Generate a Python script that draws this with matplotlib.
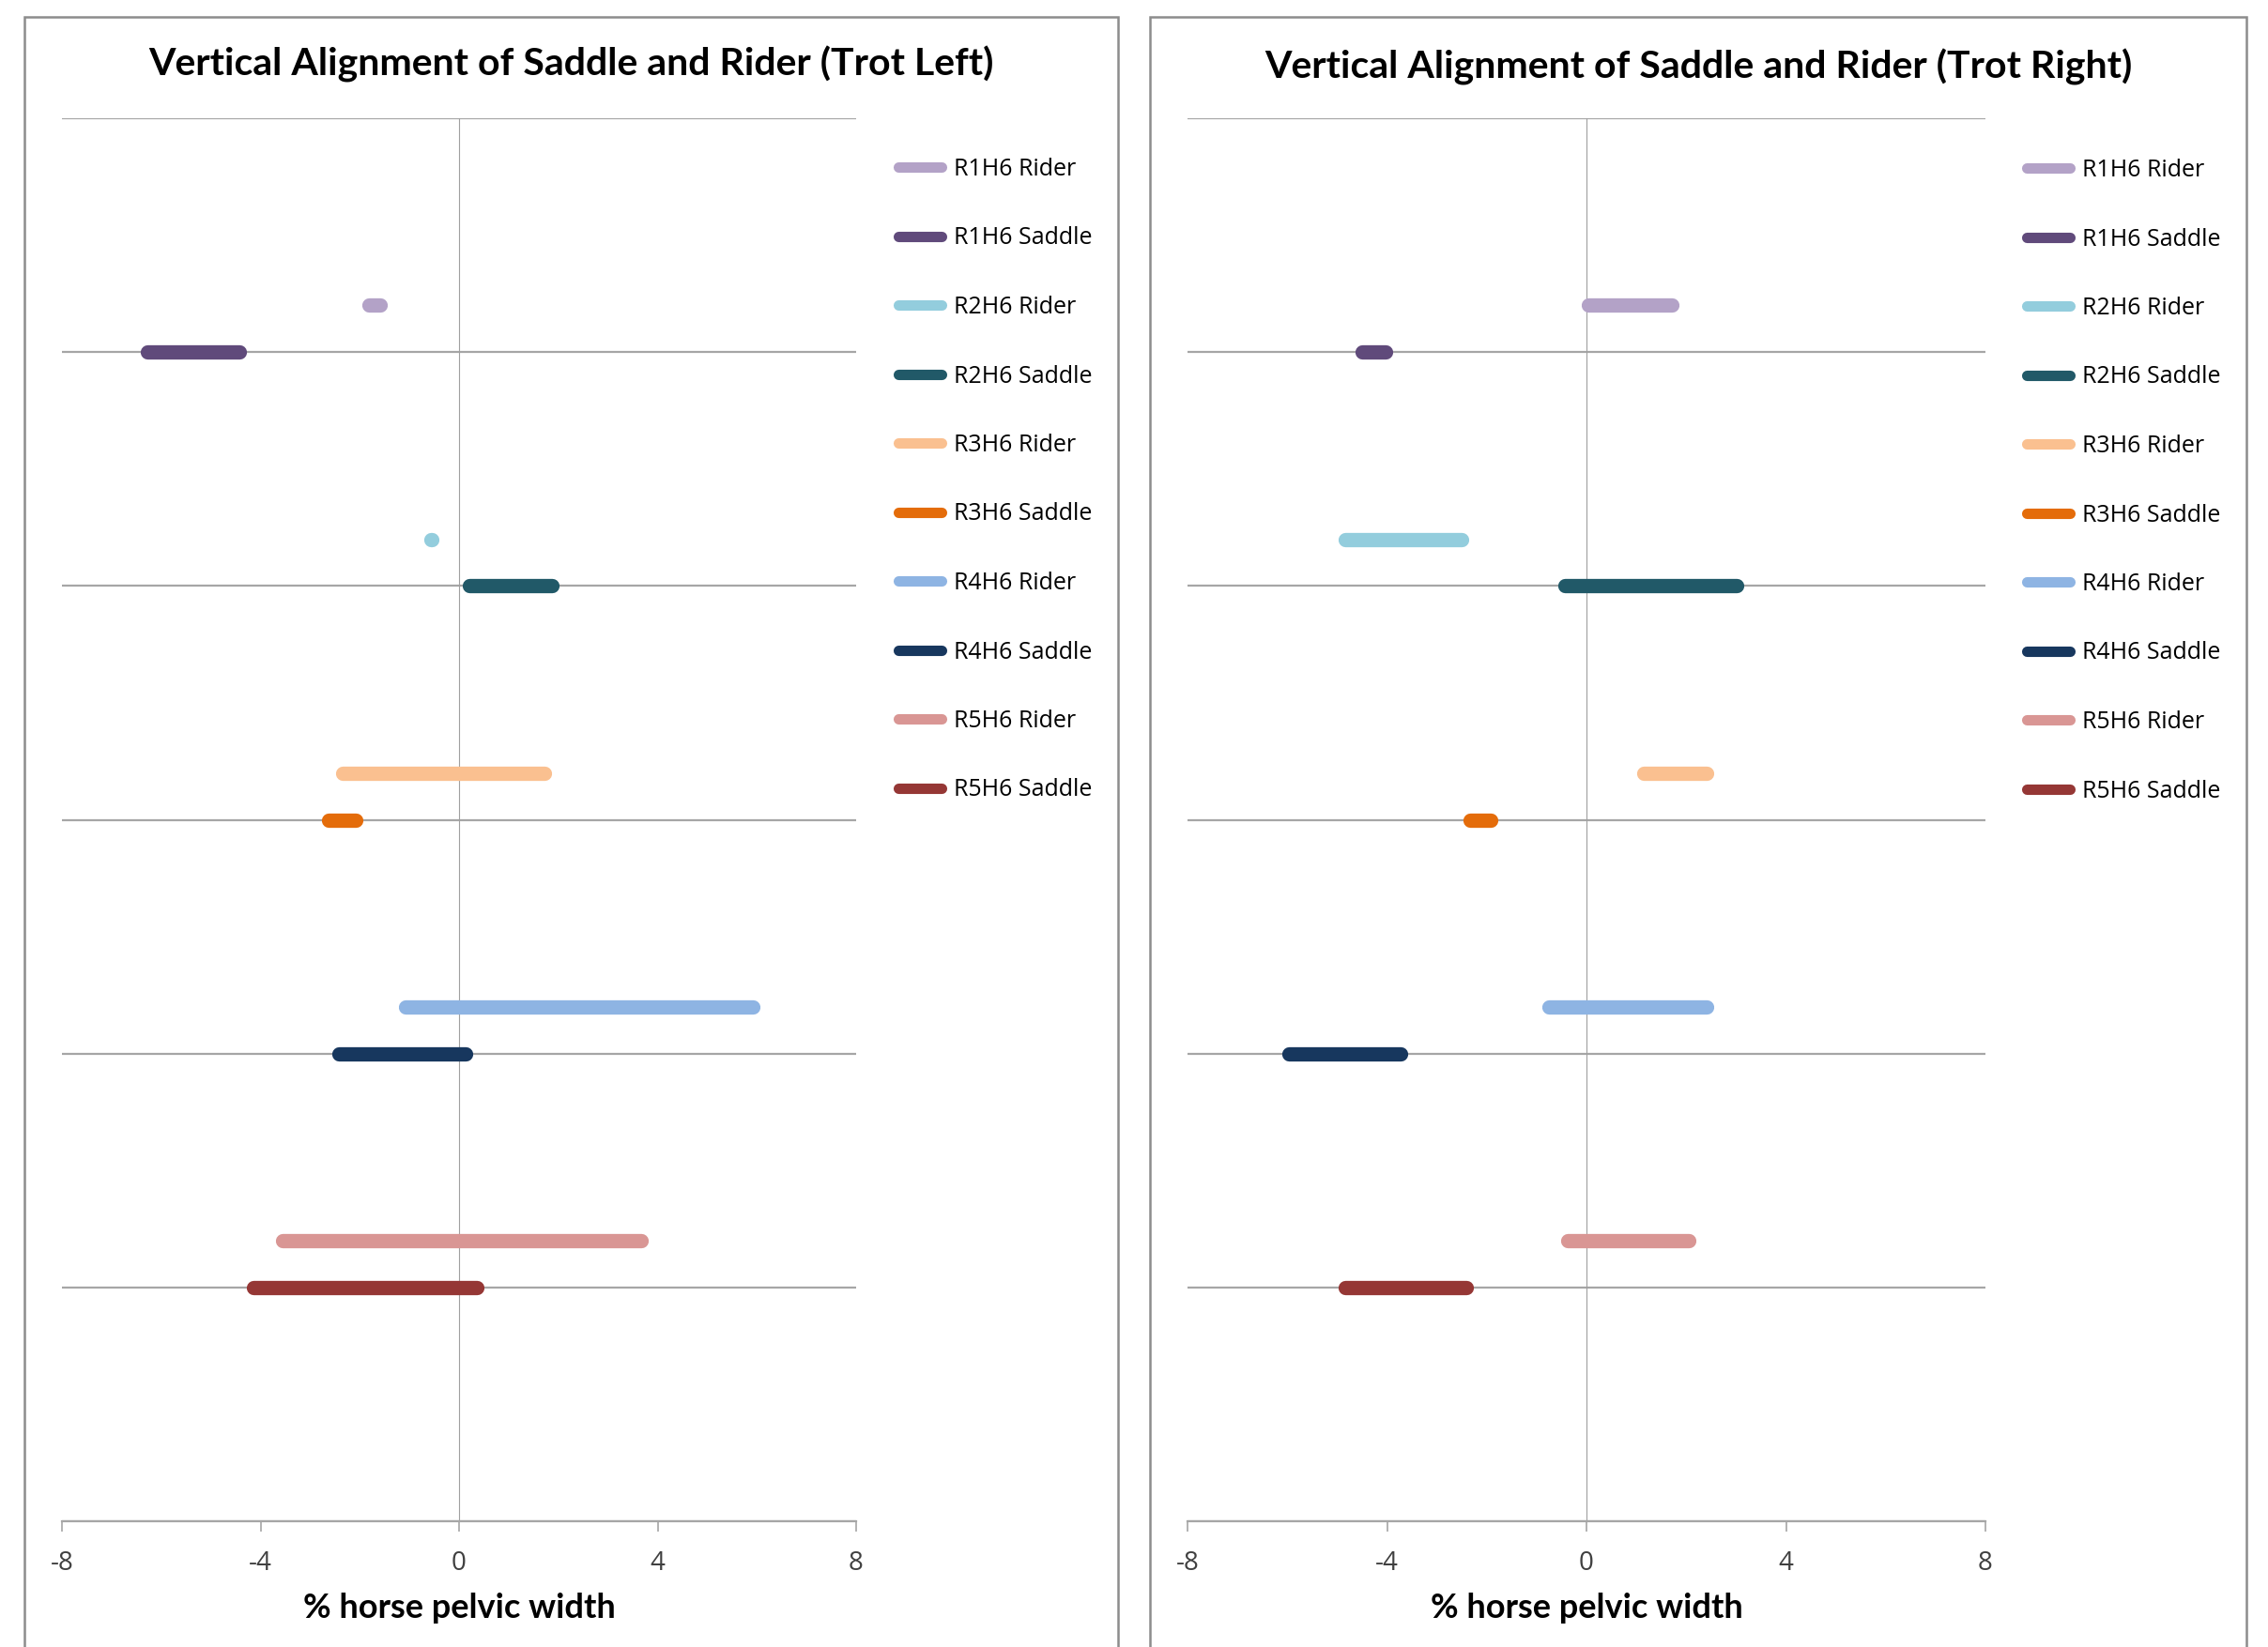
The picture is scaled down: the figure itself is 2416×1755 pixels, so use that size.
import matplotlib
matplotlib.use('Agg')
import matplotlib.pyplot as plt
from matplotlib import font_manager
from matplotlib.patches import Rectangle

#series names and colours (rider / saddle per rider-horse pair)
labels = ['R1H6 Rider', 'R1H6 Saddle', 'R2H6 Rider', 'R2H6 Saddle', 'R3H6 Rider',
          'R3H6 Saddle', 'R4H6 Rider', 'R4H6 Saddle', 'R5H6 Rider', 'R5H6 Saddle']
colors = ['#B3A2C7', '#604A7B', '#93CDDD', '#215968', '#FAC090',
          '#E46C0A', '#8EB4E3', '#17375E', '#D99694', '#953735']
#vertical position of each series
levels = [5.2, 5, 4.2, 4, 3.2, 3, 2.2, 2, 1.2, 1]

#start / end of each bar, % horse pelvic width
left_start = [-1.82, -6.27, -0.56, 0.21, -2.35, -2.62, -1.07, -2.42, -3.55, -4.14]
left_end = [-1.58, -4.43, -0.54, 1.87, 1.72, -2.08, 5.92, 0.14, 3.67, 0.35]
right_start = [0.03, -4.49, -4.84, -0.43, 1.14, -2.34, -0.75, -5.97, -0.37, -4.84]
right_end = [1.71, -4.03, -2.5, 3.01, 2.4, -1.92, 2.4, -3.72, 2.05, -2.41]

titles = ['Vertical Alignment of Saddle and Rider (Trot Left)',
          'Vertical Alignment of Saddle and Rider (Trot Right)']
xlabel = '% horse pelvic width'
xticks = [-8, -4, 0, 4, 8]

names = {f.name for f in font_manager.fontManager.ttflist}
title_font = 'Liberation Sans Narrow' if 'Liberation Sans Narrow' in names else 'Lato'
body_font = 'Open Sans'

W, H = 2416, 1755
fig = plt.figure(figsize=(W / 100, H / 100), dpi=100)

panels = [
    dict(box=(26, 1191), ax=(66, 912), title_y=68, leg_x=957, leg_y=168,
         start=left_start, end=left_end, title=titles[0]),
    dict(box=(1225, 2393), ax=(1265, 2115), title_y=71, leg_x=2159, leg_y=169,
         start=right_start, end=right_end, title=titles[1]),
]

ax_top, ax_bot = 126, 1621

for p in panels:
    #panel frame, running off the bottom edge
    x0, x1 = p['box']
    fig.patches.append(Rectangle((x0 / W, -0.02), (x1 - x0) / W, 1 - 18 / H + 0.02,
                                 transform=fig.transFigure, fill=False,
                                 edgecolor='#8C8C8C', linewidth=1.8))
    fig.text((x0 + x1) / 2 / W, 1 - p['title_y'] / H, p['title'], ha='center', va='center',
             fontsize=29.5, fontweight='bold', family=title_font)

    a0, a1 = p['ax']
    ax = fig.add_axes([a0 / W, 1 - ax_bot / H, (a1 - a0) / W, (ax_bot - ax_top) / H])
    ax.set_xlim(-8, 8)
    ax.set_ylim(0, 6)

    for i in range(len(labels)):
        ax.plot([p['start'][i], p['end'][i]], [levels[i], levels[i]], color=colors[i],
                linewidth=11, solid_capstyle='round', label=labels[i], zorder=3)

    #horizontal gridlines and axes like the excel chart
    ax.set_yticks(range(0, 7))
    ax.set_yticklabels([])
    ax.tick_params(axis='y', length=0)
    ax.grid(axis='y', color='#A6A6A6', linewidth=1.6)
    ax.set_axisbelow(True)
    for s in ['top', 'right']:
        ax.spines[s].set_visible(False)
    ax.spines['left'].set_position(('data', 0))
    ax.spines['left'].set_color('#A0A0A0')
    ax.spines['left'].set_linewidth(0.8)
    ax.spines['bottom'].set_color('#A6A6A6')
    ax.spines['bottom'].set_linewidth(1.6)

    ax.set_xticks(xticks)
    ax.set_xticklabels([str(t) for t in xticks], family=body_font, fontsize=20, color='#404040')
    ax.tick_params(axis='x', length=8, width=1.2, color='#A6A6A6', pad=14)
    ax.set_xlabel(xlabel, fontsize=26, fontweight='bold', family=title_font)
    ax.xaxis.set_label_coords(0.5, -(1713 - ax_bot) / (ax_bot - ax_top))
    ax.xaxis.label.set_va('center')

    fig.legend(handles=ax.get_lines(), loc='upper left',
               bbox_to_anchor=(p['leg_x'] / W, 1 - p['leg_y'] / H),
               frameon=False, borderpad=0, borderaxespad=0, handlelength=1.85,
               handletextpad=0.5, labelspacing=1.94,
               prop={'family': body_font, 'size': 18})
    for h in fig.legends[-1].get_lines():
        h.set_linewidth(8)

fig.savefig('out.png', dpi=100, facecolor='white')
